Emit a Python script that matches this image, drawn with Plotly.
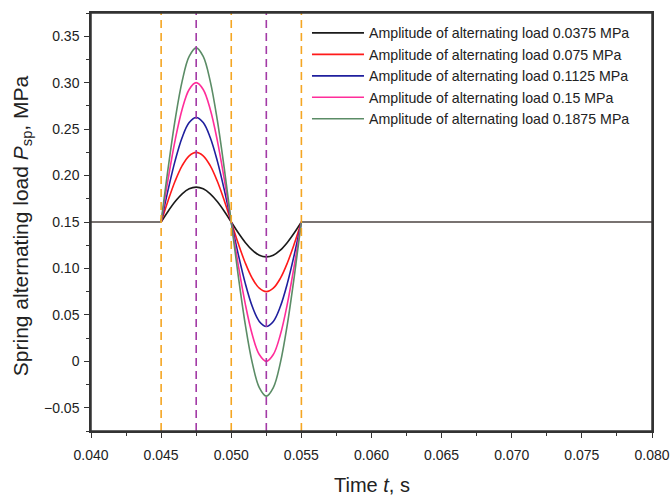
import plotly.graph_objects as go

# ---- data ----
pulse_time = [0.0450, 0.0455, 0.0460, 0.0465, 0.0470, 0.0475, 0.0480, 0.0485, 0.0490, 0.0495,
              0.0500, 0.0505, 0.0510, 0.0515, 0.0520, 0.0525, 0.0530, 0.0535, 0.0540, 0.0545, 0.0550]
base_time_left = [0.040, 0.045]
base_time_right = [0.055, 0.080]
base_load = [0.15, 0.15]

series_names = [
    "Amplitude of alternating load 0.0375 MPa",
    "Amplitude of alternating load 0.075 MPa",
    "Amplitude of alternating load 0.1125 MPa",
    "Amplitude of alternating load 0.15 MPa",
    "Amplitude of alternating load 0.1875 MPa",
]
load_0375 = [0.150, 0.1616, 0.1720, 0.1803, 0.1857, 0.1875, 0.1857, 0.1803, 0.1720, 0.1616, 0.150,
             0.1384, 0.1280, 0.1197, 0.1143, 0.1125, 0.1143, 0.1197, 0.1280, 0.1384, 0.150]
load_075 = [0.150, 0.1732, 0.1941, 0.2107, 0.2213, 0.2250, 0.2213, 0.2107, 0.1941, 0.1732, 0.150,
            0.1268, 0.1059, 0.0893, 0.0787, 0.0750, 0.0787, 0.0893, 0.1059, 0.1268, 0.150]
load_1125 = [0.150, 0.1848, 0.2161, 0.2410, 0.2570, 0.2625, 0.2570, 0.2410, 0.2161, 0.1848, 0.150,
             0.1152, 0.0839, 0.0590, 0.0430, 0.0375, 0.0430, 0.0590, 0.0839, 0.1152, 0.150]
load_15 = [0.150, 0.1964, 0.2382, 0.2714, 0.2927, 0.3000, 0.2927, 0.2714, 0.2382, 0.1964, 0.150,
           0.1036, 0.0618, 0.0286, 0.0073, 0.0000, 0.0073, 0.0286, 0.0618, 0.1036, 0.150]
load_1875 = [0.150, 0.2079, 0.2602, 0.3017, 0.3283, 0.3375, 0.3283, 0.3017, 0.2602, 0.2079, 0.150,
             0.0921, 0.0398, -0.0017, -0.0283, -0.0375, -0.0283, -0.0017, 0.0398, 0.0921, 0.150]
series_values = [load_0375, load_075, load_1125, load_15, load_1875]
series_colors = ["#1a1a1a", "#ff1a1a", "#1f1f9e", "#ff2d9a", "#5b8c66"]

orange_marks = [0.045, 0.050, 0.055]
purple_marks = [0.0475, 0.0525]

x_tickvals = [0.040, 0.045, 0.050, 0.055, 0.060, 0.065, 0.070, 0.075, 0.080]
x_ticktext = ["0.040", "0.045", "0.050", "0.055", "0.060", "0.065", "0.070", "0.075", "0.080"]
y_tickvals = [-0.05, 0, 0.05, 0.10, 0.15, 0.20, 0.25, 0.30, 0.35]
y_ticktext = ["\u22120.05", "0", "0.05", "0.10", "0.15", "0.20", "0.25", "0.30", "0.35"]

x_title = "Time <i>t</i>, s"
y_title = "Spring alternating load <i>P</i><sub>sp</sub>, MPa"

FONT = "Liberation Sans, Arial, sans-serif"

fig = go.Figure()
for name, vals, col in zip(series_names, series_values, series_colors):
    fig.add_trace(go.Scatter(x=base_time_left, y=base_load, mode="lines", line=dict(color=col, width=1.6),
                             legendgroup=name, showlegend=False, hoverinfo="skip"))
    fig.add_trace(go.Scatter(x=base_time_right, y=base_load, mode="lines", line=dict(color=col, width=1.6),
                             legendgroup=name, showlegend=False, hoverinfo="skip"))
    fig.add_trace(go.Scatter(x=pulse_time, y=vals, mode="lines", name=name, legendgroup=name,
                             line=dict(color=col, width=1.6, shape="spline", smoothing=1.0)))

for xm in orange_marks:
    fig.add_shape(type="line", xref="x", yref="paper", x0=xm, x1=xm, y0=0, y1=1,
                  line=dict(color="#f5a623", width=1.6, dash="8px,5px"), layer="above")
for xm in purple_marks:
    fig.add_shape(type="line", xref="x", yref="paper", x0=xm, x1=xm, y0=0, y1=1,
                  line=dict(color="#a33aa6", width=1.6, dash="8px,5px"), layer="above")
# plot frame
fig.add_shape(type="rect", xref="paper", yref="paper", x0=0, x1=1, y0=0, y1=1,
              line=dict(color="#333", width=1.5), fillcolor="rgba(0,0,0,0)", layer="above")

axis_common = dict(showline=True, linecolor="#333", linewidth=1.5, mirror=True, showgrid=False,
                   zeroline=False, ticks="outside", ticklen=5, tickwidth=1.3, tickcolor="#333",
                   tickfont=dict(family=FONT, size=14, color="#222"))

fig.update_xaxes(range=[0.040, 0.080], tickvals=x_tickvals, ticktext=x_ticktext,
                 ticklabelstandoff=5, automargin=False,
                 minor=dict(ticks="outside", ticklen=3, tickwidth=1.2, tickcolor="#333", dtick=0.0025,
                            tick0=0.040),
                 **axis_common)
fig.update_yaxes(range=[-0.075, 0.375], tickvals=y_tickvals, ticktext=y_ticktext,
                 ticklabelstandoff=2, automargin=False,
                 minor=dict(ticks="outside", ticklen=3, tickwidth=1.2, tickcolor="#333", dtick=0.025,
                            tick0=0),
                 **axis_common)

fig.add_annotation(text=x_title, xref="paper", yref="paper", x=0.5, y=0, yshift=-54,
                   xanchor="center", yanchor="middle", showarrow=False,
                   font=dict(family=FONT, size=20, color="#222"))
fig.add_annotation(text=y_title, xref="paper", yref="paper", x=0, y=0.49, xshift=-69,
                   xanchor="center", yanchor="middle", showarrow=False, textangle=-90,
                   font=dict(family=FONT, size=21, color="#222"))

fig.update_layout(
    width=671, height=496,
    margin=dict(l=91, r=19, t=13, b=65),
    plot_bgcolor="white", paper_bgcolor="white",
    font=dict(family=FONT, color="#222"),
    legend=dict(x=0.385, y=0.99, xanchor="left", yanchor="top", bgcolor="rgba(0,0,0,0)",
                font=dict(family=FONT, size=14.2, color="#222"), tracegroupgap=0, itemwidth=52),
    showlegend=True,
)

fig.write_html("out.html")
